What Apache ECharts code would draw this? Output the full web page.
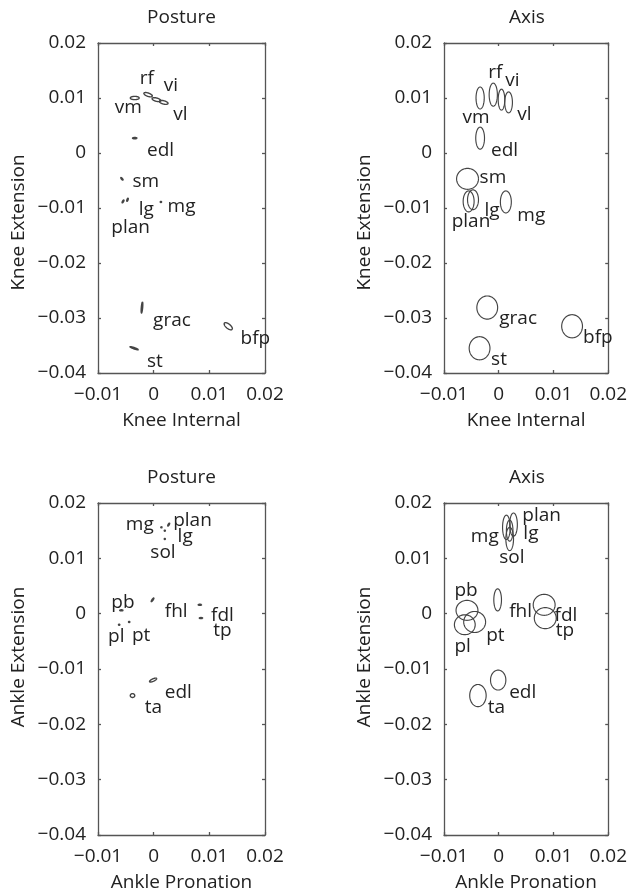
<!DOCTYPE html>
<html>
<head>
<meta charset="utf-8">
<script src="https://cdn.jsdelivr.net/npm/echarts@6/dist/echarts.min.js"></script>
<style>
  html, body { margin: 0; padding: 0; background: #fff; }
  #chart { width: 630px; height: 895px; }
</style>
</head>
<body>
<div id="chart"></div>
<script>
// ---- Knee muscles: centres shared by both knee panels ----
const kneeMuscles = ['rf', 'vi', 'vm', 'vl', 'edl', 'sm', 'lg', 'mg', 'plan', 'grac', 'bfp', 'st'];
const kneeCenterX = [-0.0010, 0.0005, -0.0034, 0.0018, -0.0034, -0.0057, -0.0047, 0.0013, -0.0055, -0.0021, 0.0134, -0.0035];
const kneeCenterY = [0.0106, 0.0097, 0.0100, 0.0092, 0.0027, -0.0047, -0.0085, -0.0089, -0.0088, -0.0281, -0.0315, -0.0355];

// Knee, posture ellipses (semi-axes in data units, tilt in degrees)
const kneePostureRadiusX = [0.0008, 0.0008, 0.0008, 0.0008, 0.0004, 0.0003, 0.0003, 0.00012, 0.0003, 0.0010, 0.0009, 0.0008];
const kneePostureRadiusY = [0.0003, 0.0003, 0.0003, 0.0003, 0.00012, 0.0001, 0.0001, 0.0001, 0.0001, 0.00012, 0.0004, 0.00012];
const kneePostureTilt = [-20, -15, 0, -15, 0, -50, 70, 0, 60, 85, -40, -20];
const kneePostureLabelX = [-0.0025, 0.0018, -0.0070, 0.0035, -0.0012, -0.0038, -0.0027, 0.0025, -0.0076, -0.0001, 0.0156, -0.0012];
const kneePostureLabelY = [0.0136, 0.0122, 0.0082, 0.0070, 0.0005, -0.0052, -0.0103, -0.0097, -0.0135, -0.0304, -0.0338, -0.0379];

// Knee, axis ellipses
const kneeAxisRadiusX = [0.00075, 0.0006, 0.00075, 0.0007, 0.0008, 0.0020, 0.0010, 0.0010, 0.0010, 0.0019, 0.0019, 0.0019];
const kneeAxisRadiusY = [0.0021, 0.0019, 0.0020, 0.0019, 0.0020, 0.0019, 0.0018, 0.0020, 0.0019, 0.0021, 0.0021, 0.0021];
const kneeAxisTilt = [0, 0, 0, 0, 0, 0, 0, 0, 0, 0, 0, 0];
const kneeAxisLabelX = [-0.0019, 0.0012, -0.0066, 0.0034, -0.0014, -0.0035, -0.0026, 0.0034, -0.0086, 0.0001, 0.0154, -0.0014];
const kneeAxisLabelY = [0.0146, 0.0131, 0.0065, 0.0070, 0.0005, -0.0044, -0.0104, -0.0113, -0.0125, -0.0301, -0.0336, -0.0375];

// ---- Ankle muscles: centres shared by both ankle panels ----
const ankleMuscles = ['mg', 'plan', 'lg', 'sol', 'fhl', 'pb', 'pl', 'pt', 'fdl', 'tp', 'edl', 'ta'];
const ankleCenterX = [0.0014, 0.0027, 0.0020, 0.0020, -0.0002, -0.0058, -0.0062, -0.0044, 0.0083, 0.0085, -0.0001, -0.0038];
const ankleCenterY = [0.0156, 0.0161, 0.0150, 0.0135, 0.0025, 0.0006, -0.0020, -0.0015, 0.0016, -0.0008, -0.0120, -0.0148];

// Ankle, posture ellipses
const anklePostureRadiusX = [0.00012, 0.0003, 0.0001, 0.0001, 0.0004, 0.0003, 0.00012, 0.00012, 0.0003, 0.0003, 0.0007, 0.0004];
const anklePostureRadiusY = [0.0001, 0.0001, 0.0001, 0.0001, 0.0001, 0.0001, 0.0001, 0.0001, 0.0001, 0.0001, 0.00022, 0.00035];
const anklePostureTilt = [0, 60, 0, 0, 55, 0, 0, 0, 0, 0, 25, 0];
const anklePostureLabelX = [-0.0050, 0.0035, 0.0043, -0.0006, 0.0020, -0.0076, -0.0082, -0.0039, 0.0103, 0.0107, 0.0020, -0.0016];
const anklePostureLabelY = [0.0161, 0.0169, 0.0139, 0.0111, 0.0003, 0.0020, -0.0042, -0.0040, -0.0003, -0.0030, -0.0142, -0.0169];

// Ankle, axis ellipses
const ankleAxisRadiusX = [0.0007, 0.0007, 0.0006, 0.0007, 0.0007, 0.0020, 0.0019, 0.0020, 0.0020, 0.0020, 0.0014, 0.0015];
const ankleAxisRadiusY = [0.0022, 0.0021, 0.0019, 0.0021, 0.0020, 0.0018, 0.0018, 0.0019, 0.0019, 0.0019, 0.0018, 0.0020];
const ankleAxisTilt = [0, 0, 0, 0, 0, 0, 0, 0, 0, 0, 0, 0];
const ankleAxisLabelX = [-0.0051, 0.0043, 0.0045, 0.0001, 0.0019, -0.0081, -0.0081, -0.0023, 0.0102, 0.0104, 0.0019, -0.0020];
const ankleAxisLabelY = [0.0140, 0.0178, 0.0145, 0.0101, 0.0003, 0.0041, -0.0060, -0.0039, -0.0003, -0.0030, -0.0142, -0.0169];

// Axis ranges and ticks
const xMin = -0.01, xMax = 0.02, xStep = 0.01;
const yMin = -0.04, yMax = 0.02, yStep = 0.01;

const panelTitles = ['Posture', 'Axis', 'Posture', 'Axis'];
const xAxisNames = ['Knee Internal', 'Knee Internal', 'Ankle Pronation', 'Ankle Pronation'];
const yAxisNames = ['Knee Extension', 'Knee Extension', 'Ankle Extension', 'Ankle Extension'];

// ---- styling / layout ----
const FONT = '"Open Sans", "Liberation Sans", sans-serif';
const TEXT = '#222222';
const AXIS = '#555555';
const INK = '#444444';
const FS = 19;

const grids = [
  { left: 98, top: 43, width: 167, height: 330 },
  { left: 444, top: 43, width: 166, height: 330 },
  { left: 98, top: 503, width: 167, height: 332 },
  { left: 444, top: 503, width: 166, height: 332 }
];

// shifts the rotated y-axis name along the axis (knee names sit a little low, ankle names a little high)
const yNamePadding = [[0, 29, 0, 0], [0, 29, 0, 0], [0, 0, 0, 24], [0, 0, 0, 24]];

const panels = [
  { muscles: kneeMuscles, cx: kneeCenterX, cy: kneeCenterY, rx: kneePostureRadiusX, ry: kneePostureRadiusY, tilt: kneePostureTilt, lx: kneePostureLabelX, ly: kneePostureLabelY, ink: 1.4 },
  { muscles: kneeMuscles, cx: kneeCenterX, cy: kneeCenterY, rx: kneeAxisRadiusX, ry: kneeAxisRadiusY, tilt: kneeAxisTilt, lx: kneeAxisLabelX, ly: kneeAxisLabelY, ink: 1.15 },
  { muscles: ankleMuscles, cx: ankleCenterX, cy: ankleCenterY, rx: anklePostureRadiusX, ry: anklePostureRadiusY, tilt: anklePostureTilt, lx: anklePostureLabelX, ly: anklePostureLabelY, ink: 1.4 },
  { muscles: ankleMuscles, cx: ankleCenterX, cy: ankleCenterY, rx: ankleAxisRadiusX, ry: ankleAxisRadiusY, tilt: ankleAxisTilt, lx: ankleAxisLabelX, ly: ankleAxisLabelY, ink: 1.15 }
];

function tickText(v) {
  if (Math.abs(v) < 1e-9) return '0';
  return (v < 0 ? '\u2212' : '') + Math.abs(v).toFixed(2);
}

const lineStyle = { color: AXIS, width: 1.3 };
const xAxes = [], yAxes = [], series = [], titles = [];

panels.forEach(function (p, i) {
  const g = grids[i];
  titles.push({
    text: panelTitles[i], left: g.left + g.width / 2, top: g.top - 35, textAlign: 'center', padding: 0,
    textStyle: { fontFamily: FONT, fontSize: FS, fontWeight: 'normal', color: TEXT }
  });
  // bottom / left axes carry labels; top / right axes only echo the ticks
  xAxes.push({
    gridIndex: i, type: 'value', position: 'bottom', min: xMin, max: xMax, interval: xStep,
    axisLine: { show: true, onZero: false, lineStyle: lineStyle },
    axisTick: { show: true, inside: true, length: 3, lineStyle: lineStyle },
    axisLabel: { formatter: tickText, margin: 12, fontFamily: FONT, fontSize: FS, color: TEXT, showMinLabel: true, showMaxLabel: true },
    splitLine: { show: false },
    name: xAxisNames[i], nameLocation: 'middle', nameGap: 38,
    nameTextStyle: { fontFamily: FONT, fontSize: FS, color: TEXT }
  });
  xAxes.push({
    gridIndex: i, type: 'value', position: 'top', min: xMin, max: xMax, interval: xStep,
    axisLine: { show: true, onZero: false, lineStyle: lineStyle },
    axisTick: { show: true, inside: true, length: 3, lineStyle: lineStyle },
    axisLabel: { show: false }, splitLine: { show: false }
  });
  yAxes.push({
    gridIndex: i, type: 'value', position: 'left', min: yMin, max: yMax, interval: yStep,
    axisLine: { show: true, onZero: false, lineStyle: lineStyle },
    axisTick: { show: true, inside: true, length: 3, lineStyle: lineStyle },
    axisLabel: { formatter: tickText, margin: 12, fontFamily: FONT, fontSize: FS, color: TEXT, showMinLabel: true, showMaxLabel: true },
    splitLine: { show: false },
    name: yAxisNames[i], nameLocation: 'middle', nameGap: 70,
    nameTextStyle: { fontFamily: FONT, fontSize: FS, color: TEXT, padding: yNamePadding[i] }
  });
  yAxes.push({
    gridIndex: i, type: 'value', position: 'right', min: yMin, max: yMax, interval: yStep,
    axisLine: { show: true, onZero: false, lineStyle: lineStyle },
    axisTick: { show: true, inside: true, length: 3, lineStyle: lineStyle },
    axisLabel: { show: false }, splitLine: { show: false }
  });

  // ellipse outlines, traced in data space and mapped through the axes
  const ellipseData = p.muscles.map(function (m, k) {
    return { name: m, value: [p.cx[k], p.cy[k], p.rx[k], p.ry[k], p.tilt[k]] };
  });
  series.push({
    type: 'custom', xAxisIndex: 2 * i, yAxisIndex: 2 * i, data: ellipseData, silent: true,
    renderItem: function (params, api) {
      const cx = api.value(0), cy = api.value(1), rx = api.value(2), ry = api.value(3);
      const a = api.value(4) * Math.PI / 180;
      const pts = [];
      const N = 72;
      for (let s = 0; s <= N; s++) {
        const t = 2 * Math.PI * s / N;
        const dx = rx * Math.cos(t), dy = ry * Math.sin(t);
        pts.push(api.coord([cx + dx * Math.cos(a) - dy * Math.sin(a), cy + dx * Math.sin(a) + dy * Math.cos(a)]));
      }
      return { type: 'polyline', shape: { points: pts }, style: { fill: null, stroke: INK, lineWidth: p.ink } };
    }
  });

  // muscle names
  const labelData = p.muscles.map(function (m, k) {
    return { name: m, value: [p.lx[k], p.ly[k]] };
  });
  series.push({
    type: 'custom', xAxisIndex: 2 * i, yAxisIndex: 2 * i, data: labelData, silent: true,
    renderItem: function (params, api) {
      const pt = api.coord([api.value(0), api.value(1)]);
      return {
        type: 'text', x: pt[0], y: pt[1],
        style: { text: p.muscles[params.dataIndex], fill: TEXT, fontFamily: FONT, fontSize: FS, align: 'left', verticalAlign: 'middle' }
      };
    }
  });
});

const chart = echarts.init(document.getElementById('chart'), null, { renderer: 'canvas' });
chart.setOption({
  animation: false,
  backgroundColor: '#ffffff',
  title: titles,
  grid: grids,
  xAxis: xAxes,
  yAxis: yAxes,
  series: series
});
</script>
</body>
</html>
